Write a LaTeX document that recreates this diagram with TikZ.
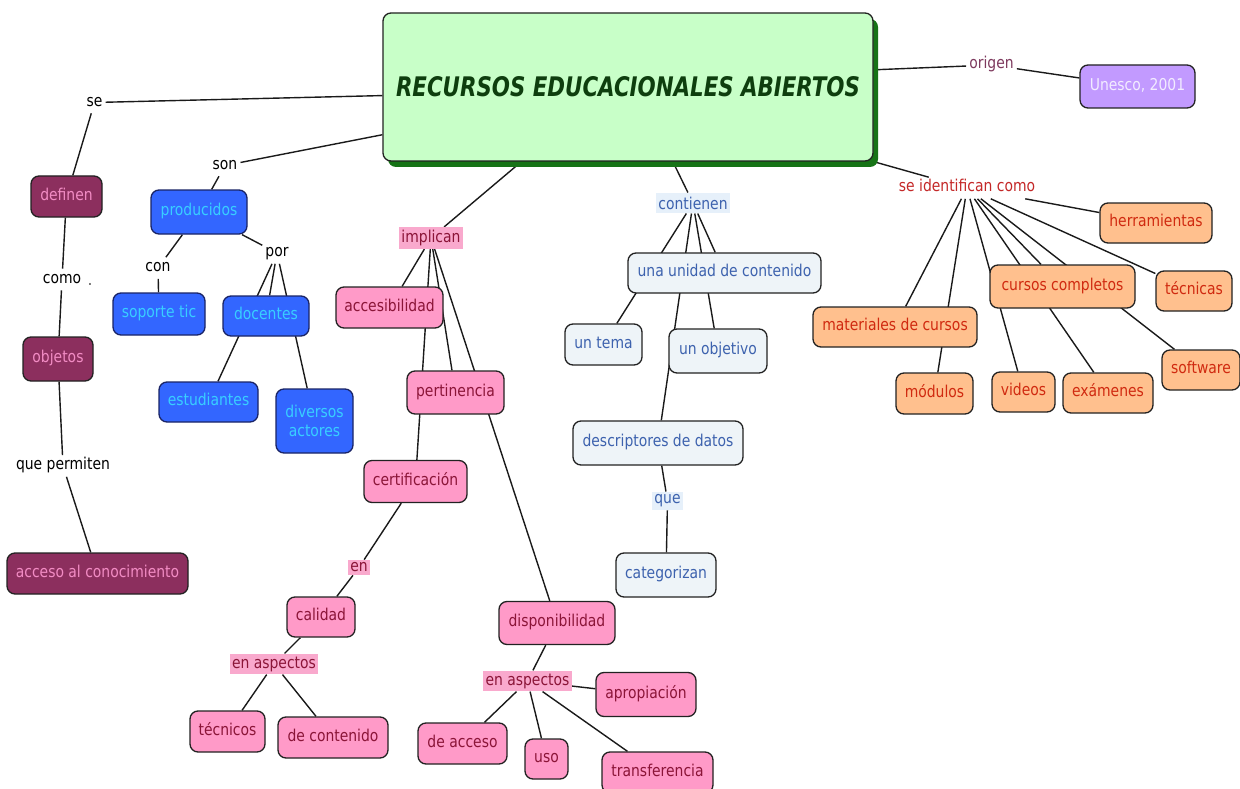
\documentclass[tikz,border=0pt]{standalone}
\usepackage{fontspec}
\setmainfont{DejaVu Sans Condensed}[FakeStretch=0.95,BoldFont={DejaVu Sans Condensed Bold},ItalicFont={DejaVu Sans Condensed Oblique},BoldItalicFont={DejaVu Sans Condensed Bold Oblique}]
\pgfdeclarelayer{paper}
\pgfdeclarelayer{edges}
\pgfsetlayers{paper,edges,main}
\definecolor{boxline}{HTML}{222222}
\definecolor{edgecol}{HTML}{1A1A1A}
\definecolor{marfill}{HTML}{8C2F5E}
\definecolor{martext}{HTML}{F28CC4}
\definecolor{blufill}{HTML}{3366FF}
\definecolor{blutext}{HTML}{38CFFF}
\definecolor{bluline}{HTML}{1A2466}
\definecolor{pkfill}{HTML}{FF9AC8}
\definecolor{pktext}{HTML}{8B1538}
\definecolor{pklab}{HTML}{F9A9CD}
\definecolor{lbfill}{HTML}{EEF4F8}
\definecolor{lbtext}{HTML}{3D62AE}
\definecolor{lblab}{HTML}{E6F0FA}
\definecolor{orfill}{HTML}{FFC08E}
\definecolor{ortext}{HTML}{D02A10}
\definecolor{lilfill}{HTML}{C29AFF}
\definecolor{liltext}{HTML}{F2ECFF}
\definecolor{greenfill}{HTML}{C8FFC8}
\definecolor{greenshadow}{HTML}{167316}
\definecolor{titletext}{HTML}{0E3E0E}
\definecolor{origentext}{HTML}{7E3A5E}
\definecolor{identtext}{HTML}{C42828}
\newcommand{\fs}{\fontsize{16.3pt}{18.5pt}\selectfont}
\begin{document}
\begin{tikzpicture}[x=1pt,y=-1pt,
  fixh/.style={text height=11.5pt,text depth=3.7pt},
  basebox/.style={draw=boxline,line width=1.3pt,rounded corners=8pt,inner sep=0pt,font=\fs,align=center},
  cbox/.style={basebox,fixh},
  sz/.style n args={2}{minimum width=#1pt,minimum height=#2pt},
  mar/.style={cbox,fill=marfill,text=martext},
  blu/.style={cbox,fill=blufill,text=blutext,draw=bluline},
  pk/.style={cbox,fill=pkfill,text=pktext},
  lb/.style={cbox,fill=lbfill,text=lbtext},
  org/.style={cbox,fill=orfill,text=ortext},
  lil/.style={cbox,fill=lilfill,text=liltext},
  lab/.style={font=\fs,fixh,inner xsep=3pt,inner ysep=3pt,text=black},
  hlab/.style={font=\fs,inner xsep=2.5pt,inner ysep=3pt},
  pklabel/.style={hlab,fill=pklab,text=pktext},
  lblabel/.style={hlab,fill=lblab,text=lbtext},
  edge/.style={draw=edgecol,line width=1.4pt}
]
\useasboundingbox (0,0) rectangle (1240,789);
\begin{pgfonlayer}{paper}
  \fill[white] (0,0) rectangle (1240,789);
\end{pgfonlayer}

% main concept
\node[fill=greenshadow,rounded corners=8pt,inner sep=0pt,sz={490}{148}] (mainshadow) at (633,93) {};
\node[basebox,fill=greenfill,sz={490}{148}] (main) at (628,87)
  {\color{titletext}\resizebox{464pt}{20pt}{\bfseries\itshape RECURSOS EDUCACIONALES ABIERTOS}};

% left branch
\node[lab] (se) at (94.5,102.5) {se};
\node[mar,sz={71}{41}] (definen) at (66.5,196.5) {definen};
\node[lab] (como) at (62,279.5) {como};
\node[font=\fs,inner sep=0pt,text=black!70] (dot) at (90,284.5) {.};
\node[mar,sz={70}{44}] (objetos) at (58,359) {objetos};
\node[lab] (quepermiten) at (63,466) {que permiten};
\node[mar,sz={181}{41}] (acceso) at (97.5,573.5) {acceso al conocimiento};

% blue branch
\node[lab] (son) at (225,165.5) {son};
\node[blu,sz={96}{44}] (producidos) at (199,212) {producidos};
\node[lab] (con) at (158,268) {con};
\node[lab] (por) at (277,253) {por};
\node[blu,sz={92}{42}] (soporte) at (159,314) {soporte tic};
\node[blu,sz={86}{40}] (docentes) at (266,316) {docentes};
\node[blu,sz={99}{40}] (estudiantes) at (208.5,402) {estudiantes};
\node[basebox,fill=blufill,text=blutext,draw=bluline,sz={77}{64}] (diversos) at (314.5,421) {diversos\\actores};

% pink branch
\node[pklabel] (implican) at (431,238) {implican};
\node[pk,sz={107}{41}] (accesibilidad) at (389.5,307.5) {accesibilidad};
\node[pk,sz={97}{43}] (pertinencia) at (455.5,392.5) {pertinencia};
\node[pk,sz={103}{42}] (certificacion) at (415.5,481.5) {certificación};
\node[pklabel] (en) at (359,567.5) {en};
\node[pk,sz={68}{40}] (calidad) at (321,617) {calidad};
\node[pklabel] (enasp1) at (274,664) {en aspectos};
\node[pk,sz={75}{41}] (tecnicos) at (227.5,731.5) {técnicos};
\node[pk,sz={110}{41}] (decontenido) at (333,737.5) {de contenido};
\node[pk,sz={116}{43}] (disponibilidad) at (557,623) {disponibilidad};
\node[pklabel] (enasp2) at (527.5,681) {en aspectos};
\node[pk,sz={100}{44}] (apropiacion) at (646,694.5) {apropiación};
\node[pk,sz={89}{41}] (deacceso) at (462.5,743.5) {de acceso};
\node[pk,sz={43}{40}] (uso) at (546.5,759) {uso};
\node[pk,sz={111}{41}] (transferencia) at (657.5,772.5) {transferencia};

% light blue branch
\node[lblabel,inner ysep=4pt] (contienen) at (693,203) {contienen};
\node[lb,sz={193}{40}] (unaunidad) at (724.5,273) {una unidad de contenido};
\node[lb,sz={77}{41}] (untema) at (603.5,344.5) {un tema};
\node[lb,sz={98}{44}] (unobjetivo) at (718,351) {un objetivo};
\node[lb,sz={170}{44}] (descriptores) at (658,443) {descriptores de datos};
\node[lblabel,inner ysep=3pt] (que) at (667.5,501) {que};
\node[lb,sz={100}{44}] (categorizan) at (666,575) {categorizan};

% origin
\node[lab,text=origentext] (origen) at (991.5,65) {origen};
\node[lil,sz={115}{43}] (unesco) at (1137.5,86.5) {Unesco, 2001};

% orange branch
\node[lab,text=identtext] (seident) at (967,188) {se identifican como};
\node[org,sz={112}{40}] (herramientas) at (1156,223) {herramientas};
\node[org,sz={76}{40}] (tecnicas) at (1194,291) {técnicas};
\node[org,sz={145}{43}] (cursos) at (1062.5,286.5) {cursos completos};
\node[org,sz={164}{40}] (materiales) at (895,327) {materiales de cursos};
\node[org,sz={78}{40}] (software) at (1201,370) {software};
\node[org,sz={77}{41}] (modulos) at (934.5,393.5) {módulos};
\node[org,sz={63}{40}] (videos) at (1023.5,392) {videos};
\node[org,sz={90}{40}] (examenes) at (1108,393) {exámenes};

\begin{pgfonlayer}{edges}
  \draw[edge] (main.-178) -- (se);
  \draw[edge] (se) -- (definen);
  \draw[edge] (definen) -- (como);
  \draw[edge] (como) -- (objetos);
  \draw[edge] (objetos) -- (quepermiten);
  \draw[edge] (quepermiten) -- (acceso);

  \draw[edge] (main.-169) -- (son);
  \draw[edge] (son) -- (producidos);
  \draw[edge] (producidos) -- (con);
  \draw[edge] (con) -- (soporte);
  \draw[edge] (producidos) -- (por);
  \draw[edge] (por) -- (docentes);
  \draw[edge] (por) -- (estudiantes);
  \draw[edge] (por) -- (diversos);

  \draw[edge] (main.-145) -- (implican);
  \draw[edge] (implican) -- (accesibilidad);
  \draw[edge] (implican) -- (pertinencia);
  \draw[edge] (implican) -- (certificacion);
  \draw[edge] (implican) -- (disponibilidad);
  \draw[edge] (certificacion) -- (en);
  \draw[edge] (en) -- (calidad);
  \draw[edge] (calidad) -- (enasp1);
  \draw[edge] (enasp1) -- (tecnicos);
  \draw[edge] (enasp1) -- (decontenido);
  \draw[edge] (disponibilidad) -- (enasp2);
  \draw[edge] (enasp2) -- (apropiacion);
  \draw[edge] (enasp2) -- (deacceso);
  \draw[edge] (enasp2) -- (uso);
  \draw[edge] (enasp2) -- (transferencia);

  \draw[edge] (main.-59) -- (contienen);
  \draw[edge] (contienen) -- (unaunidad);
  \draw[edge] (contienen) -- (untema);
  \draw[edge] (contienen) -- (unobjetivo);
  \draw[edge] (contienen) -- (descriptores);
  \draw[edge] (descriptores) -- (que);
  \draw[edge] (que) -- (categorizan);

  \draw[edge] (main.4) -- (origen);
  \draw[edge] (origen) -- (unesco);

  \draw[edge] (main.south east) -- (seident);
  \draw[edge] (seident) -- (herramientas);
  \draw[edge] (seident) -- (tecnicas);
  \draw[edge] (seident) -- (cursos);
  \draw[edge] (seident) -- (materiales);
  \draw[edge] (seident) -- (software);
  \draw[edge] (seident) -- (modulos);
  \draw[edge] (seident) -- (videos);
  \draw[edge] (seident) -- (examenes);
\end{pgfonlayer}
\end{tikzpicture}
\end{document}
